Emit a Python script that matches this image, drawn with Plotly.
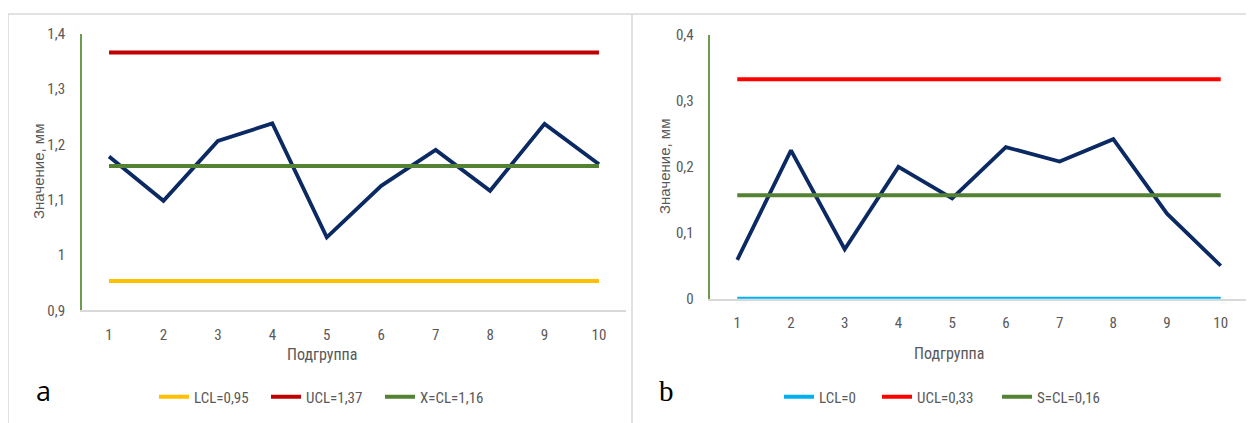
import plotly.graph_objects as go

# ---------------- data ----------------
subgroups = [1, 2, 3, 4, 5, 6, 7, 8, 9, 10]

xbar_values = [1.178, 1.098, 1.206, 1.238, 1.032, 1.125, 1.190, 1.116, 1.237, 1.164]
xbar_lcl = 0.953
xbar_ucl = 1.366
xbar_cl = 1.161
xbar_labels = ["LCL=0,95", "UCL=1,37", "X=CL=1,16"]

s_values = [0.059, 0.225, 0.075, 0.200, 0.152, 0.230, 0.208, 0.242, 0.129, 0.050]
s_lcl = 0.0
s_ucl = 0.333
s_cl = 0.157
s_labels = ["LCL=0", "UCL=0,33", "S=CL=0,16"]

y1_ticks = [0.9, 1.0, 1.1, 1.2, 1.3, 1.4]
y2_ticks = [0.0, 0.1, 0.2, 0.3, 0.4]

# ---------------- styling ----------------
W, H = 1254, 423
OFF = 8  # page body margin offset
NARROW = "Liberation Sans Narrow, Roboto Condensed, DejaVu Sans Condensed, Arial Narrow, sans-serif"
REG = "Liberation Sans, Arial, sans-serif"
GRAY = "#595959"
NAVY = "#0B2A63"


def px(x):
    return (x - OFF) / W


def py(y):
    return 1 - (y - OFF) / H


fig = go.Figure()


def add_panel(xa, ya, legs, values, lcl, ucl, cl, labels, colors):
    fig.add_trace(go.Scatter(x=subgroups, y=values, mode="lines",
                             line=dict(color=NAVY, width=3.8), showlegend=False,
                             xaxis=xa, yaxis=ya))
    for val, lab, col, leg in zip([lcl, ucl, cl], labels, colors, legs):
        fig.add_trace(go.Scatter(x=subgroups, y=[val] * len(subgroups), mode="lines",
                                 line=dict(color=col, width=4), name=lab,
                                 legend=leg, xaxis=xa, yaxis=ya))


add_panel("x", "y", ["legend", "legend2", "legend3"], xbar_values, xbar_lcl, xbar_ucl,
          xbar_cl, xbar_labels, ["#FFC000", "#C00000", "#548235"])
add_panel("x2", "y2", ["legend4", "legend5", "legend6"], s_values, s_lcl, s_ucl, s_cl,
          s_labels, ["#00B0F0", "#FF0000", "#548235"])

tickfont = dict(family=NARROW, size=15, color=GRAY)
xcommon = dict(range=[0.5, 10.5], tickvals=subgroups, showgrid=False, zeroline=False,
               showline=True, linecolor="#D9D9D9", linewidth=1.5, ticks="",
               tickfont=tickfont, ticklabelstandoff=10, automargin=False)
ycommon = dict(showgrid=False, zeroline=False, showline=True, linecolor="#6E9B4F",
               linewidth=1.5, ticks="", tickfont=tickfont, ticklabelstandoff=12,
               automargin=False)


def leg(xline):
    return dict(orientation="h", font=dict(family=NARROW, size=15, color=GRAY),
                bgcolor="rgba(0,0,0,0)", xanchor="left", yanchor="middle",
                itemwidth=30, x=px(xline - 6), y=py(397))


fig.update_layout(
    width=W, height=H, margin=dict(l=0, r=0, t=0, b=0, pad=0, autoexpand=False),
    paper_bgcolor="white", plot_bgcolor="white",
    separators=", ",
    xaxis=dict(domain=[px(81.8), px(626.2)], anchor="y", **xcommon),
    yaxis=dict(domain=[py(310.3), py(33.7)], anchor="x", range=[0.9, 1.4],
               tickvals=y1_ticks, **ycommon),
    xaxis2=dict(domain=[px(710.4), px(1247.6)], anchor="y2", **xcommon),
    yaxis2=dict(domain=[py(298.7), py(35)], anchor="x2", range=[0, 0.4],
                tickvals=y2_ticks, **ycommon),
    legend=leg(160), legend2=leg(272), legend3=leg(386),
    legend4=leg(785), legend5=leg(883), legend6=leg(1003),
)

# panel borders
border = dict(color="#D9D9D9", width=1.5)
fig.add_shape(type="line", xref="paper", yref="paper", x0=px(8), x1=1, y0=py(14), y1=py(14), line=border)
fig.add_shape(type="line", xref="paper", yref="paper", x0=px(8), x1=px(8), y0=py(14), y1=0, line=border)
fig.add_shape(type="line", xref="paper", yref="paper", x0=px(632), x1=px(632), y0=py(14), y1=0, line=border)

# axis titles and panel letters
ann = dict(xref="paper", yref="paper", showarrow=False, xanchor="center", yanchor="middle")
fig.add_annotation(text="Значение, мм", x=px(38), y=py(172), textangle=-90,
                   font=dict(family=REG, size=15, color=GRAY), **ann)
fig.add_annotation(text="Значение, мм", x=px(664), y=py(167), textangle=-90,
                   font=dict(family=REG, size=15, color=GRAY), **ann)
fig.add_annotation(text="Подгруппа", x=px(322), y=py(354),
                   font=dict(family=NARROW, size=16, color=GRAY), **ann)
fig.add_annotation(text="Подгруппа", x=px(949), y=py(353),
                   font=dict(family=NARROW, size=16, color=GRAY), **ann)
fig.add_annotation(text="a", x=px(43), y=py(390),
                   font=dict(family="Open Sans, sans-serif", size=27, color="black"), **ann)
fig.add_annotation(text="b", x=px(667), y=py(391),
                   font=dict(family="Liberation Serif, serif", size=29, color="black"), **ann)

fig.write_html("out.html")
